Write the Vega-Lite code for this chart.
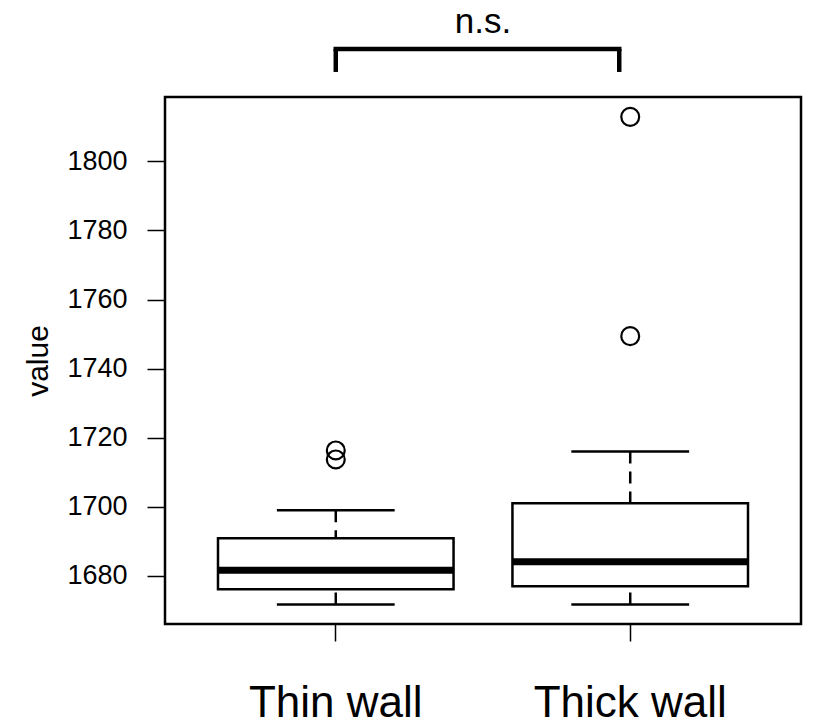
{
  "$schema": "https://vega.github.io/schema/vega-lite/v6.json",
  "width": 636,
  "height": 527,
  "autosize": "none",
  "padding": {"left": 165, "top": 97, "right": 12, "bottom": 102},
  "background": "white",
  "config": {
    "view": {"stroke": "black", "strokeWidth": 2.5},
    "font": "Liberation Sans",
    "axis": {"grid": false, "domain": false, "tickColor": "black", "labelColor": "black", "titleColor": "black", "labelFont": "Liberation Sans", "titleFont": "Liberation Sans", "titleFontWeight": "normal", "labelLimit": 0}
  },
  "datasets": {
    "stats": [
      {"group": "Thin wall", "lower": 1671.7, "q1": 1676.1, "median": 1681.6, "q3": 1690.9, "upper": 1699.0},
      {"group": "Thick wall", "lower": 1671.7, "q1": 1677.0, "median": 1684.1, "q3": 1701.0, "upper": 1716.0}
    ],
    "outliers": [
      {"group": "Thin wall", "value": 1716.3},
      {"group": "Thin wall", "value": 1713.7},
      {"group": "Thick wall", "value": 1749.4},
      {"group": "Thick wall", "value": 1812.9}
    ],
    "bracket": [
      {"from": "Thin wall", "to": "Thick wall", "top": 1832.55, "foot": 1825.9, "label": "n.s.", "labelPos": 1837.2}
    ],
    "legLeft": [
      {"group": "Thin wall", "top": 1832.55, "foot": 1825.9}
    ],
    "legRight": [
      {"group": "Thick wall", "top": 1832.55, "foot": 1825.9}
    ]
  },
  "layer": [
    {
      "data": {"name": "stats"},
      "mark": {"type": "bar", "fill": "white", "stroke": "black", "strokeWidth": 2.5},
      "encoding": {
        "x": {"field": "group", "type": "nominal", "scale": {"type": "band", "domain": ["Thin wall", "Thick wall"], "paddingInner": 0.2, "paddingOuter": 0.18},
              "axis": {"title": null, "labelAngle": 0, "labelFontSize": 44, "tickSize": 17, "tickWidth": 1.5, "labelPadding": 75, "labelBaseline": "alphabetic", "labelLimit": 0}},
        "y": {"field": "q1", "type": "quantitative", "scale": {"domain": [1666.05, 1818.65], "nice": false, "zero": false},
              "axis": {"title": "value", "format": "d", "values": [1680, 1700, 1720, 1740, 1760, 1780, 1800], "labelFontSize": 27, "tickSize": 18, "tickWidth": 1.5, "labelPadding": 20, "titleFontSize": 30, "titleX": -118, "titleY": 263.5, "titleBaseline": "alphabetic", "titleAngle": -90, "titleAlign": "center"}},
        "y2": {"field": "q3"}
      }
    },
    {
      "data": {"name": "stats"},
      "mark": {"type": "rule", "stroke": "black", "strokeWidth": 2.5, "strokeDash": [12, 8]},
      "encoding": {
        "x": {"field": "group", "type": "nominal"},
        "y": {"field": "lower", "type": "quantitative"},
        "y2": {"field": "q1"}
      }
    },
    {
      "data": {"name": "stats"},
      "mark": {"type": "rule", "stroke": "black", "strokeWidth": 2.5, "strokeDash": [12, 8]},
      "encoding": {
        "x": {"field": "group", "type": "nominal"},
        "y": {"field": "upper", "type": "quantitative"},
        "y2": {"field": "q3"}
      }
    },
    {
      "data": {"name": "stats"},
      "mark": {"type": "bar", "fill": null, "stroke": "black", "strokeWidth": 2.5, "width": {"band": 0.5}, "strokeJoin": "bevel"},
      "encoding": {
        "x": {"field": "group", "type": "nominal"},
        "y": {"field": "lower", "type": "quantitative"},
        "y2": {"field": "lower"}
      }
    },
    {
      "data": {"name": "stats"},
      "mark": {"type": "bar", "fill": null, "stroke": "black", "strokeWidth": 2.5, "width": {"band": 0.5}, "strokeJoin": "bevel"},
      "encoding": {
        "x": {"field": "group", "type": "nominal"},
        "y": {"field": "upper", "type": "quantitative"},
        "y2": {"field": "upper"}
      }
    },
    {
      "data": {"name": "stats"},
      "mark": {"type": "bar", "fill": null, "stroke": "black", "strokeWidth": 7, "strokeJoin": "bevel"},
      "encoding": {
        "x": {"field": "group", "type": "nominal"},
        "y": {"field": "median", "type": "quantitative"},
        "y2": {"field": "median"}
      }
    },
    {
      "data": {"name": "outliers"},
      "mark": {"type": "point", "shape": "circle", "filled": false, "stroke": "black", "strokeWidth": 2.2, "size": 320, "opacity": 1},
      "encoding": {
        "x": {"field": "group", "type": "nominal"},
        "y": {"field": "value", "type": "quantitative"}
      }
    },
    {
      "data": {"name": "bracket"},
      "mark": {"type": "rule", "stroke": "black", "strokeWidth": 4.5, "strokeCap": "square", "x2Offset": -11},
      "encoding": {
        "x": {"field": "from", "type": "nominal"},
        "x2": {"field": "to"},
        "y": {"field": "top", "type": "quantitative"}
      }
    },
    {
      "data": {"name": "legLeft"},
      "mark": {"type": "rule", "stroke": "black", "strokeWidth": 4.5, "strokeCap": "butt"},
      "encoding": {
        "x": {"field": "group", "type": "nominal"},
        "y": {"field": "top", "type": "quantitative"},
        "y2": {"field": "foot"}
      }
    },
    {
      "data": {"name": "legRight"},
      "mark": {"type": "rule", "stroke": "black", "strokeWidth": 4.5, "strokeCap": "butt", "xOffset": -11},
      "encoding": {
        "x": {"field": "group", "type": "nominal"},
        "y": {"field": "top", "type": "quantitative"},
        "y2": {"field": "foot"}
      }
    },
    {
      "data": {"name": "bracket"},
      "mark": {"type": "text", "fontSize": 35, "baseline": "alphabetic", "align": "center", "color": "black", "font": "Liberation Sans"},
      "encoding": {
        "text": {"field": "label"},
        "y": {"field": "labelPos", "type": "quantitative"}
      }
    }
  ]
}
